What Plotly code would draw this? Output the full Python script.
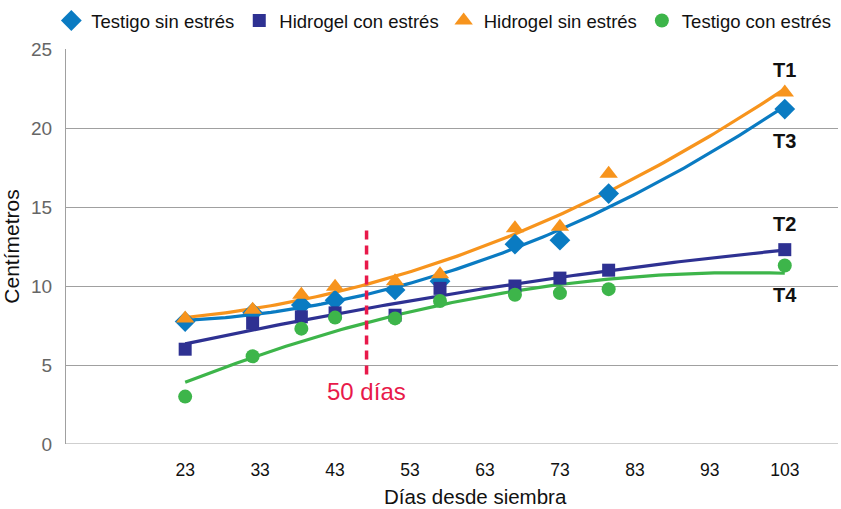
import numpy as np
import plotly.graph_objects as go

dias = [23, 32, 38.5, 43, 51, 57, 67, 73, 79.5, 103]
testigo_sin = [7.75, 8.3, 8.8, 9.1, 9.75, 10.3, 12.65, 12.9, 15.85, 21.2]
hidrogel_con = [6.0, 7.65, 8.05, 8.3, 8.15, 9.85, 10.0, 10.5, 11.0, 12.3]
hidrogel_sin = [7.95, 8.5, 9.45, 9.95, 10.3, 10.75, 13.65, 13.75, 17.1, 22.25]
testigo_con = [3.0, 5.55, 7.3, 8.0, 7.95, 9.05, 9.45, 9.55, 9.8, 11.3]

x_ticks = [23, 33, 43, 53, 63, 73, 83, 93, 103]
marker_day = 47.2

series = [
    ("Testigo sin estrés", testigo_sin, "#0A7BC2", "diamond", 16),
    ("Hidrogel con estrés", hidrogel_con, "#2E3192", "square", 13),
    ("Hidrogel sin estrés", hidrogel_sin, "#F7941D", "triangle-up", 16),
    ("Testigo con estrés", testigo_con, "#3DB54A", "circle", 14),
]

FONT = "Liberation Sans"
fig = go.Figure()
xs = np.linspace(min(dias), max(dias), 120)
# trendlines (polynomial fits of the data, as in the source chart)
for name, ys, col, sym, sz in series:
    c = np.polyfit(dias, ys, 2)
    fig.add_trace(go.Scatter(x=xs, y=np.polyval(c, xs), mode="lines",
                             line=dict(color=col, width=3.2), showlegend=False,
                             hoverinfo="skip"))
for name, ys, col, sym, sz in series:
    fig.add_trace(go.Scatter(x=dias, y=ys, mode="markers", name=name,
                             marker=dict(color=col, symbol=sym, size=sz, line=dict(width=0))))

fig.add_shape(type="line", x0=marker_day, x1=marker_day, y0=4.4, y1=13.9,
              line=dict(color="#E8194A", width=3.5, dash="9px,6px"))
fig.add_annotation(x=marker_day, y=3.3, text="50 días", showarrow=False,
                   font=dict(color="#E8194A", size=24, family=FONT))

labels = [("T1", 23.7), ("T3", 19.2), ("T2", 13.9), ("T4", 9.4)]
for t, yv in labels:
    fig.add_annotation(x=103, y=yv, text="<b>%s</b>" % t, showarrow=False,
                       font=dict(color="#111", size=20, family=FONT))

# x-axis title (placed slightly right of centre, as in the reference)
fig.add_annotation(xref="paper", yref="paper", x=0.53, y=-0.133, yanchor="middle",
                   text="Días desde siembra", showarrow=False,
                   font=dict(size=20.5, color="#111", family=FONT))

fig.update_layout(
    width=841, height=509,
    margin=dict(l=66, r=3, t=49, b=65, autoexpand=False),
    paper_bgcolor="white", plot_bgcolor="white",
    font=dict(family=FONT, color="#222"),
    legend=dict(orientation="h", x=-0.019, xanchor="left", y=1.071, yanchor="middle",
                font=dict(size=18.5, color="#111", family=FONT), itemwidth=30,
                tracegroupgap=0, bgcolor="rgba(0,0,0,0)"),
    xaxis=dict(range=[7.1, 110.1], tickvals=x_ticks, ticktext=[str(v) for v in x_ticks],
               showgrid=False, zeroline=False, showline=False,
               ticks="outside", ticklen=10, tickcolor="rgba(0,0,0,0)",
               tickfont=dict(size=17.5, color="#111")),
    yaxis=dict(range=[0, 25], tickvals=[0, 5, 10, 15, 20, 25], showgrid=True,
               gridcolor="#a0a0a0", gridwidth=1.2, zeroline=False, showline=True,
               linecolor="#a0a0a0", linewidth=1.2,
               ticks="outside", ticklen=9, tickcolor="rgba(0,0,0,0)",
               tickfont=dict(size=19, color="#666"),
               title=dict(text="Centímetros", font=dict(size=21, color="#111"), standoff=7)),
)
fig.add_shape(type="line", xref="paper", yref="y", x0=0, x1=1, y0=0, y1=0,
              line=dict(color="#a0a0a0", width=1.2), layer="below")

fig.write_html("out.html", config={"displayModeBar": False},
               post_script="document.body.style.margin='0px';")
